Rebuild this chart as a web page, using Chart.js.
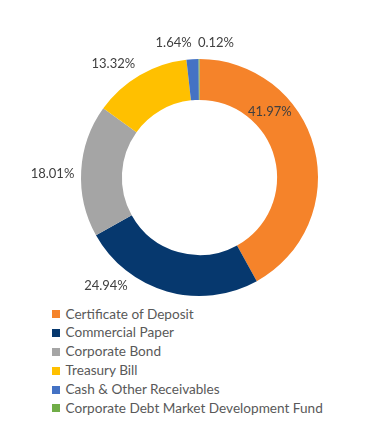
<!DOCTYPE html>
<html>
<head>
<meta charset="utf-8">
<script src="https://cdn.jsdelivr.net/npm/chart.js@4"></script>
<style>
  html, body { margin: 0; padding: 0; background: #fff; }
  #wrap { position: relative; width: 369px; height: 431px; overflow: hidden; }
  #chartBox { position: absolute; left: 0; top: 0; width: 369px; height: 300px; }
  #legend { position: absolute; left: 52px; top: 304.5px; font-family: Lato, "Open Sans", sans-serif; font-size: 13.6px; color: #595959; }
  .item { height: 18.9px; line-height: 18.9px; white-space: nowrap; display: flex; align-items: center; }
  .box { width: 8px; height: 8px; margin-right: 5.5px; flex: none; }
</style>
</head>
<body>
<div id="wrap">
  <div id="chartBox"><canvas id="chart"></canvas></div>
  <div id="legend"></div>
</div>
<script>
const categories = [ "Certificate of Deposit", "Commercial Paper", "Corporate Bond", "Treasury Bill", "Cash & Other Receivables", "Corporate Debt Market Development Fund" ];
const shares = [ 41.97, 24.94, 18.01, 13.32, 1.64, 0.12 ];
const sliceColors = [ "#F5832A", "#06386E", "#A5A5A5", "#FFC000", "#4472C4", "#70AD47" ];

// label placement like excel "best fit": [angle shift in deg, distance / outer radius]
const labelNudge = [ [-28.4, 0.81], [24.9, 1.206], [-1.7, 1.241], [-6.9, 1.202], [-7.5, 1.156], [7.2, 1.143] ];

const pctLabels = {
  id: 'pctLabels',
  afterDatasetsDraw(chart) {
    const ctx = chart.ctx;
    const meta = chart.getDatasetMeta(0);
    ctx.save();
    ctx.font = '13px Lato, "Open Sans", sans-serif';
    ctx.fillStyle = '#404040';
    ctx.textAlign = 'center';
    ctx.textBaseline = 'middle';
    meta.data.forEach((arc, i) => {
      const p = arc.getProps(['x', 'y', 'startAngle', 'endAngle', 'outerRadius'], true);
      const mid = (p.startAngle + p.endAngle) / 2 + labelNudge[i][0] * Math.PI / 180;
      const r = p.outerRadius * labelNudge[i][1];
      ctx.fillText(shares[i].toFixed(2) + '%', p.x + Math.cos(mid) * r, p.y + Math.sin(mid) * r);
    });
    ctx.restore();
  }
};

new Chart(document.getElementById('chart'), {
  type: 'doughnut',
  data: {
    labels: categories,
    datasets: [{
      data: shares,
      backgroundColor: sliceColors,
      borderWidth: 0
    }]
  },
  plugins: [pctLabels],
  options: {
    responsive: true,
    maintainAspectRatio: false,
    animation: false,
    cutout: '65.5%',
    layout: { padding: { left: 81, right: 51, top: 59, bottom: 4 } },
    plugins: {
      legend: { display: false },
      tooltip: { enabled: false }
    }
  }
});

const legend = document.getElementById('legend');
categories.forEach((name, i) => {
  const row = document.createElement('div');
  row.className = 'item';
  row.innerHTML = '<span class="box" style="background:' + sliceColors[i] + '"></span><span></span>';
  row.lastChild.textContent = name;
  legend.appendChild(row);
});
</script>
</body>
</html>
